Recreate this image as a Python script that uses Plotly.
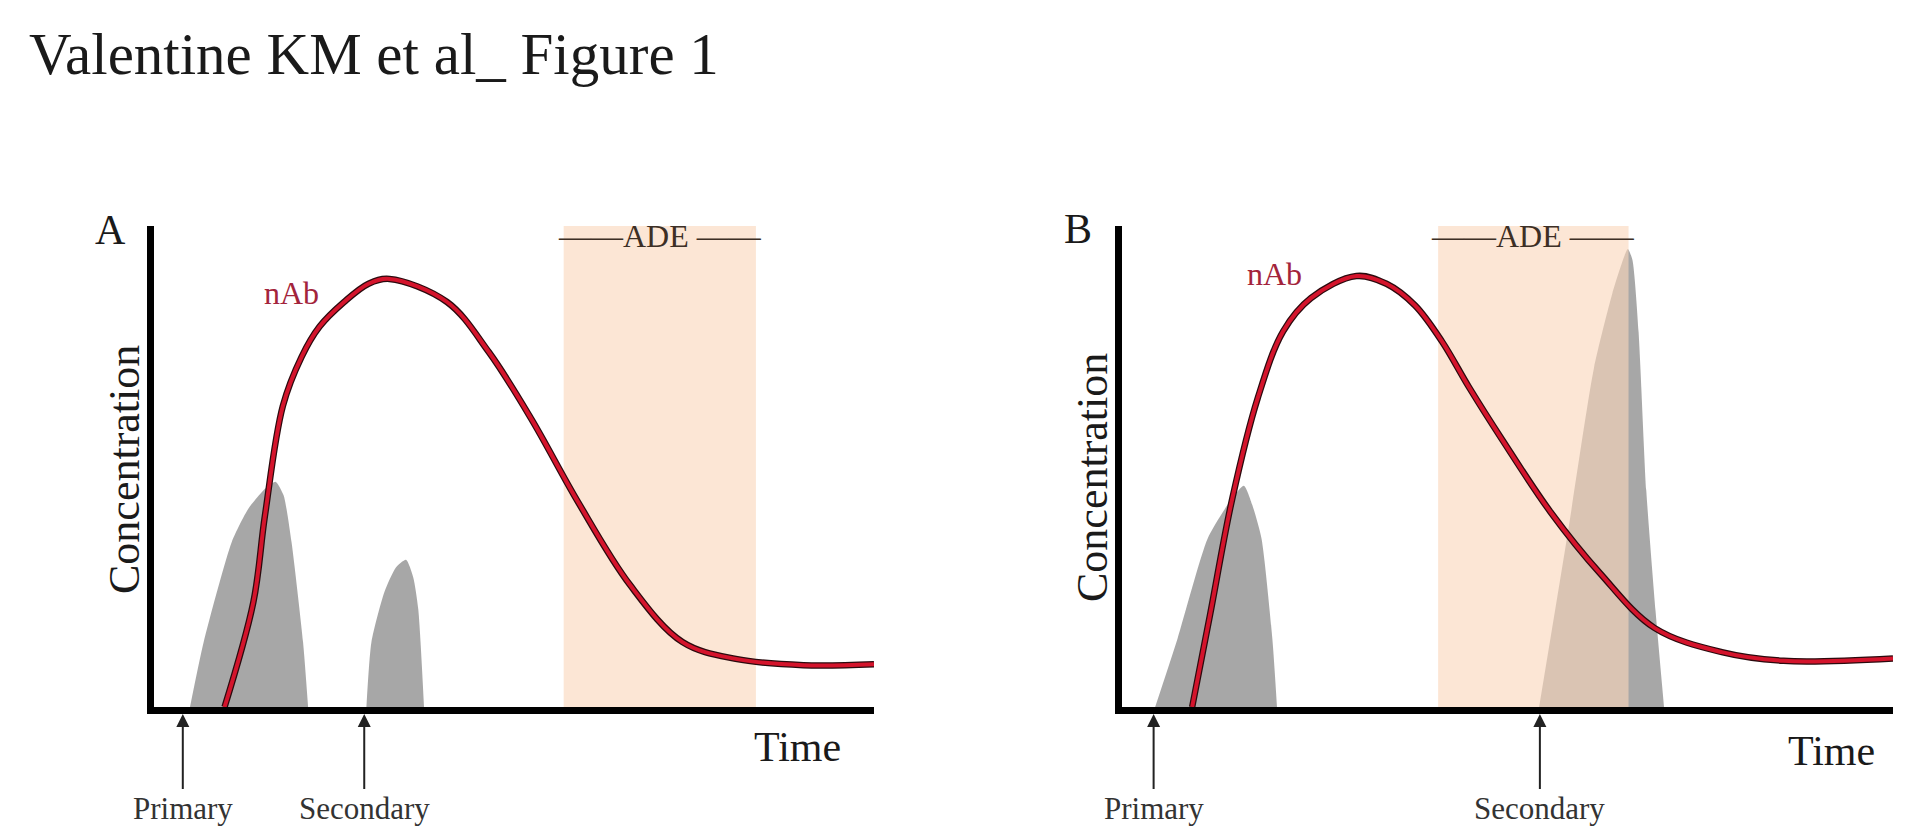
import plotly.graph_objects as go

# ── data (time / concentration in arbitrary units, 0-100) ─────────────────
A_NAB_T = [9.8, 13.8, 15.4, 17.9, 20.5, 23.0, 26.4, 29.8, 32.7, 40.7, 46.5, 52.4, 58.9, 66.1, 73.4, 80.8, 90.2, 100]
A_NAB_C = [0, 21.8, 39.7, 62.6, 72.8, 79.1, 84.2, 88.0, 89.0, 84.2, 73.8, 59.9, 42.6, 25.4, 13.5, 10.0, 8.7, 8.9]

B_NAB_T = [9.1, 11.4, 14.3, 17.6, 20.9, 24.5, 30.4, 34.3, 38.0, 41.5, 45.0, 49.3, 55.6, 62.0, 69.1, 77.8, 85.8, 100]
B_NAB_C = [0, 19.0, 43.3, 64.2, 78.1, 85.0, 89.6, 88.0, 83.5, 76.0, 66.5, 55.6, 40.5, 27.8, 16.4, 11.4, 9.6, 10.1]

# virus peaks (grey)
A_PRIMARY_T = [5.0, 6.9, 10.8, 13.1, 15.5, 16.9, 18.0, 19.1, 20.7, 21.4]
A_PRIMARY_C = [0, 13.5, 34.3, 41.2, 45.5, 46.8, 44.0, 34.3, 13.5, 0]
A_SECONDARY_T = [29.5, 30.2, 32.0, 33.6, 35.0, 36.0, 36.7, 37.5]
A_SECONDARY_C = [0, 13.5, 23.9, 29.0, 30.6, 27.0, 20.4, 0]

B_PRIMARY_T = [4.3, 7.2, 11.1, 13.9, 15.8, 16.9, 18.1, 19.5, 20.1]
B_PRIMARY_C = [0, 14.2, 35.0, 42.5, 46.0, 42.0, 35.0, 14.2, 0]
B_SECONDARY_T = [54.1, 57.8, 61.2, 63.6, 65.1, 65.6, 66.2, 67.0, 68.0, 69.2, 70.3]
B_SECONDARY_C = [0, 36.0, 70.4, 86.0, 93.5, 95.2, 93.0, 78.0, 45.0, 20.0, 0]

# ADE windows and infection times
ADE_A = [56.9, 83.6]
ADE_B = [41.0, 65.7]
INFECTIONS_A = {"Primary": 4.0, "Secondary": 29.2}
INFECTIONS_B = {"Primary": 4.1, "Secondary": 54.2}

Y_RANGE = [0, 100]
X_RANGE = [0, 100]

FONT = "Liberation Serif"
GREY = "rgba(160,160,160,0.92)"
PEACH = "rgba(250,214,188,0.62)"
RED = "#d4142c"
DARK = "#2b0a0e"

fig = go.Figure()


def add_panel(fig, xa, ya, nab_t, nab_c, peaks, ade):
    for t, c in peaks:
        fig.add_trace(go.Scatter(
            x=t, y=c, mode="lines", fill="toself", fillcolor=GREY,
            line=dict(width=0, shape="spline", smoothing=0.6),
            xaxis=xa, yaxis=ya, hoverinfo="skip",
        ))
    fig.add_trace(go.Scatter(
        x=[ade[0], ade[1], ade[1], ade[0], ade[0]],
        y=[Y_RANGE[0], Y_RANGE[0], Y_RANGE[1], Y_RANGE[1], Y_RANGE[0]],
        mode="lines", fill="toself", fillcolor=PEACH, line=dict(width=0),
        xaxis=xa, yaxis=ya, hoverinfo="skip",
    ))
    # nAb curve: dark edge under a red core
    fig.add_trace(go.Scatter(
        x=nab_t, y=nab_c, mode="lines",
        line=dict(color=DARK, width=6.5, shape="spline", smoothing=1.0),
        xaxis=xa, yaxis=ya, hoverinfo="skip",
    ))
    fig.add_trace(go.Scatter(
        x=nab_t, y=nab_c, mode="lines",
        line=dict(color=RED, width=4, shape="spline", smoothing=1.0),
        xaxis=xa, yaxis=ya, hoverinfo="skip",
    ))


add_panel(fig, "x", "y", A_NAB_T, A_NAB_C,
          [(A_PRIMARY_T, A_PRIMARY_C), (A_SECONDARY_T, A_SECONDARY_C)], ADE_A)
add_panel(fig, "x2", "y2", B_NAB_T, B_NAB_C,
          [(B_PRIMARY_T, B_PRIMARY_C), (B_SECONDARY_T, B_SECONDARY_C)], ADE_B)

axis_style = dict(
    range=X_RANGE, showline=True, linecolor="black", linewidth=7,
    showgrid=False, zeroline=False, showticklabels=False, ticks="",
    fixedrange=True,
)
y_dom = [1 - 699 / 840, 1 - 218 / 840]

fig.update_layout(
    width=1920, height=840,
    margin=dict(l=0, r=0, t=0, b=0),
    paper_bgcolor="white", plot_bgcolor="white",
    showlegend=False,
    xaxis=dict(axis_style, domain=[146 / 1920, 866 / 1920]),
    yaxis=dict(axis_style, range=Y_RANGE, domain=y_dom),
    xaxis2=dict(axis_style, domain=[1114 / 1920, 1885 / 1920], anchor="y2"),
    yaxis2=dict(axis_style, range=Y_RANGE, domain=y_dom, anchor="x2"),
)

annotations = [
    dict(text="Valentine KM et al_ Figure 1", x=19 / 1920, y=1 - 46 / 840,
         xanchor="left", yanchor="middle", font=dict(size=59, color="#1a1a1a")),
    dict(text="A", x=102 / 1920, y=1 - 222 / 840, font=dict(size=42, color="#1a1a1a")),
    dict(text="B", x=1070 / 1920, y=1 - 221 / 840, font=dict(size=42, color="#1a1a1a")),
    dict(text="nAb", x=283 / 1920, y=1 - 285 / 840, font=dict(size=32, color="#a3243b")),
    dict(text="nAb", x=1266 / 1920, y=1 - 266 / 840, font=dict(size=32, color="#a3243b")),
    dict(text="Concentration", x=116 / 1920, y=1 - 462 / 840, textangle=-90,
         font=dict(size=44, color="#1a1a1a")),
    dict(text="Concentration", x=1084 / 1920, y=1 - 470 / 840, textangle=-90,
         font=dict(size=44, color="#1a1a1a")),
    dict(text="Time", x=789 / 1920, y=1 - 739 / 840, font=dict(size=42, color="#1a1a1a")),
    dict(text="Time", x=1823 / 1920, y=1 - 743 / 840, font=dict(size=42, color="#1a1a1a")),
]
for a in annotations:
    a.setdefault("xanchor", "center")
    a.setdefault("yanchor", "middle")
    a.update(xref="paper", yref="paper", showarrow=False)

# ADE labels
for ade, xr in [(ADE_A, "x"), (ADE_B, "x2")]:
    annotations.append(dict(
        text="\u2014\u2014ADE \u2014\u2014", x=(ade[0] + ade[1]) / 2, xref=xr,
        y=1 - 228 / 840, yref="paper", showarrow=False,
        xanchor="center", yanchor="middle",
        font=dict(size=32, color="#3d2f25"),
    ))

# infection arrows with labels
for infections, xr, yr in [(INFECTIONS_A, "x", "y"), (INFECTIONS_B, "x2", "y2")]:
    for label, t in infections.items():
        annotations.append(dict(
            text=label, x=t, y=Y_RANGE[0], xref=xr, yref=yr,
            showarrow=True, ax=0, ay=101, standoff=7,
            arrowhead=2, arrowsize=1.3, arrowwidth=2, arrowcolor="#222",
            font=dict(size=31, color="#333"),
        ))

fig.update_layout(annotations=annotations, font=dict(family=FONT))

fig.write_html("out.html")
